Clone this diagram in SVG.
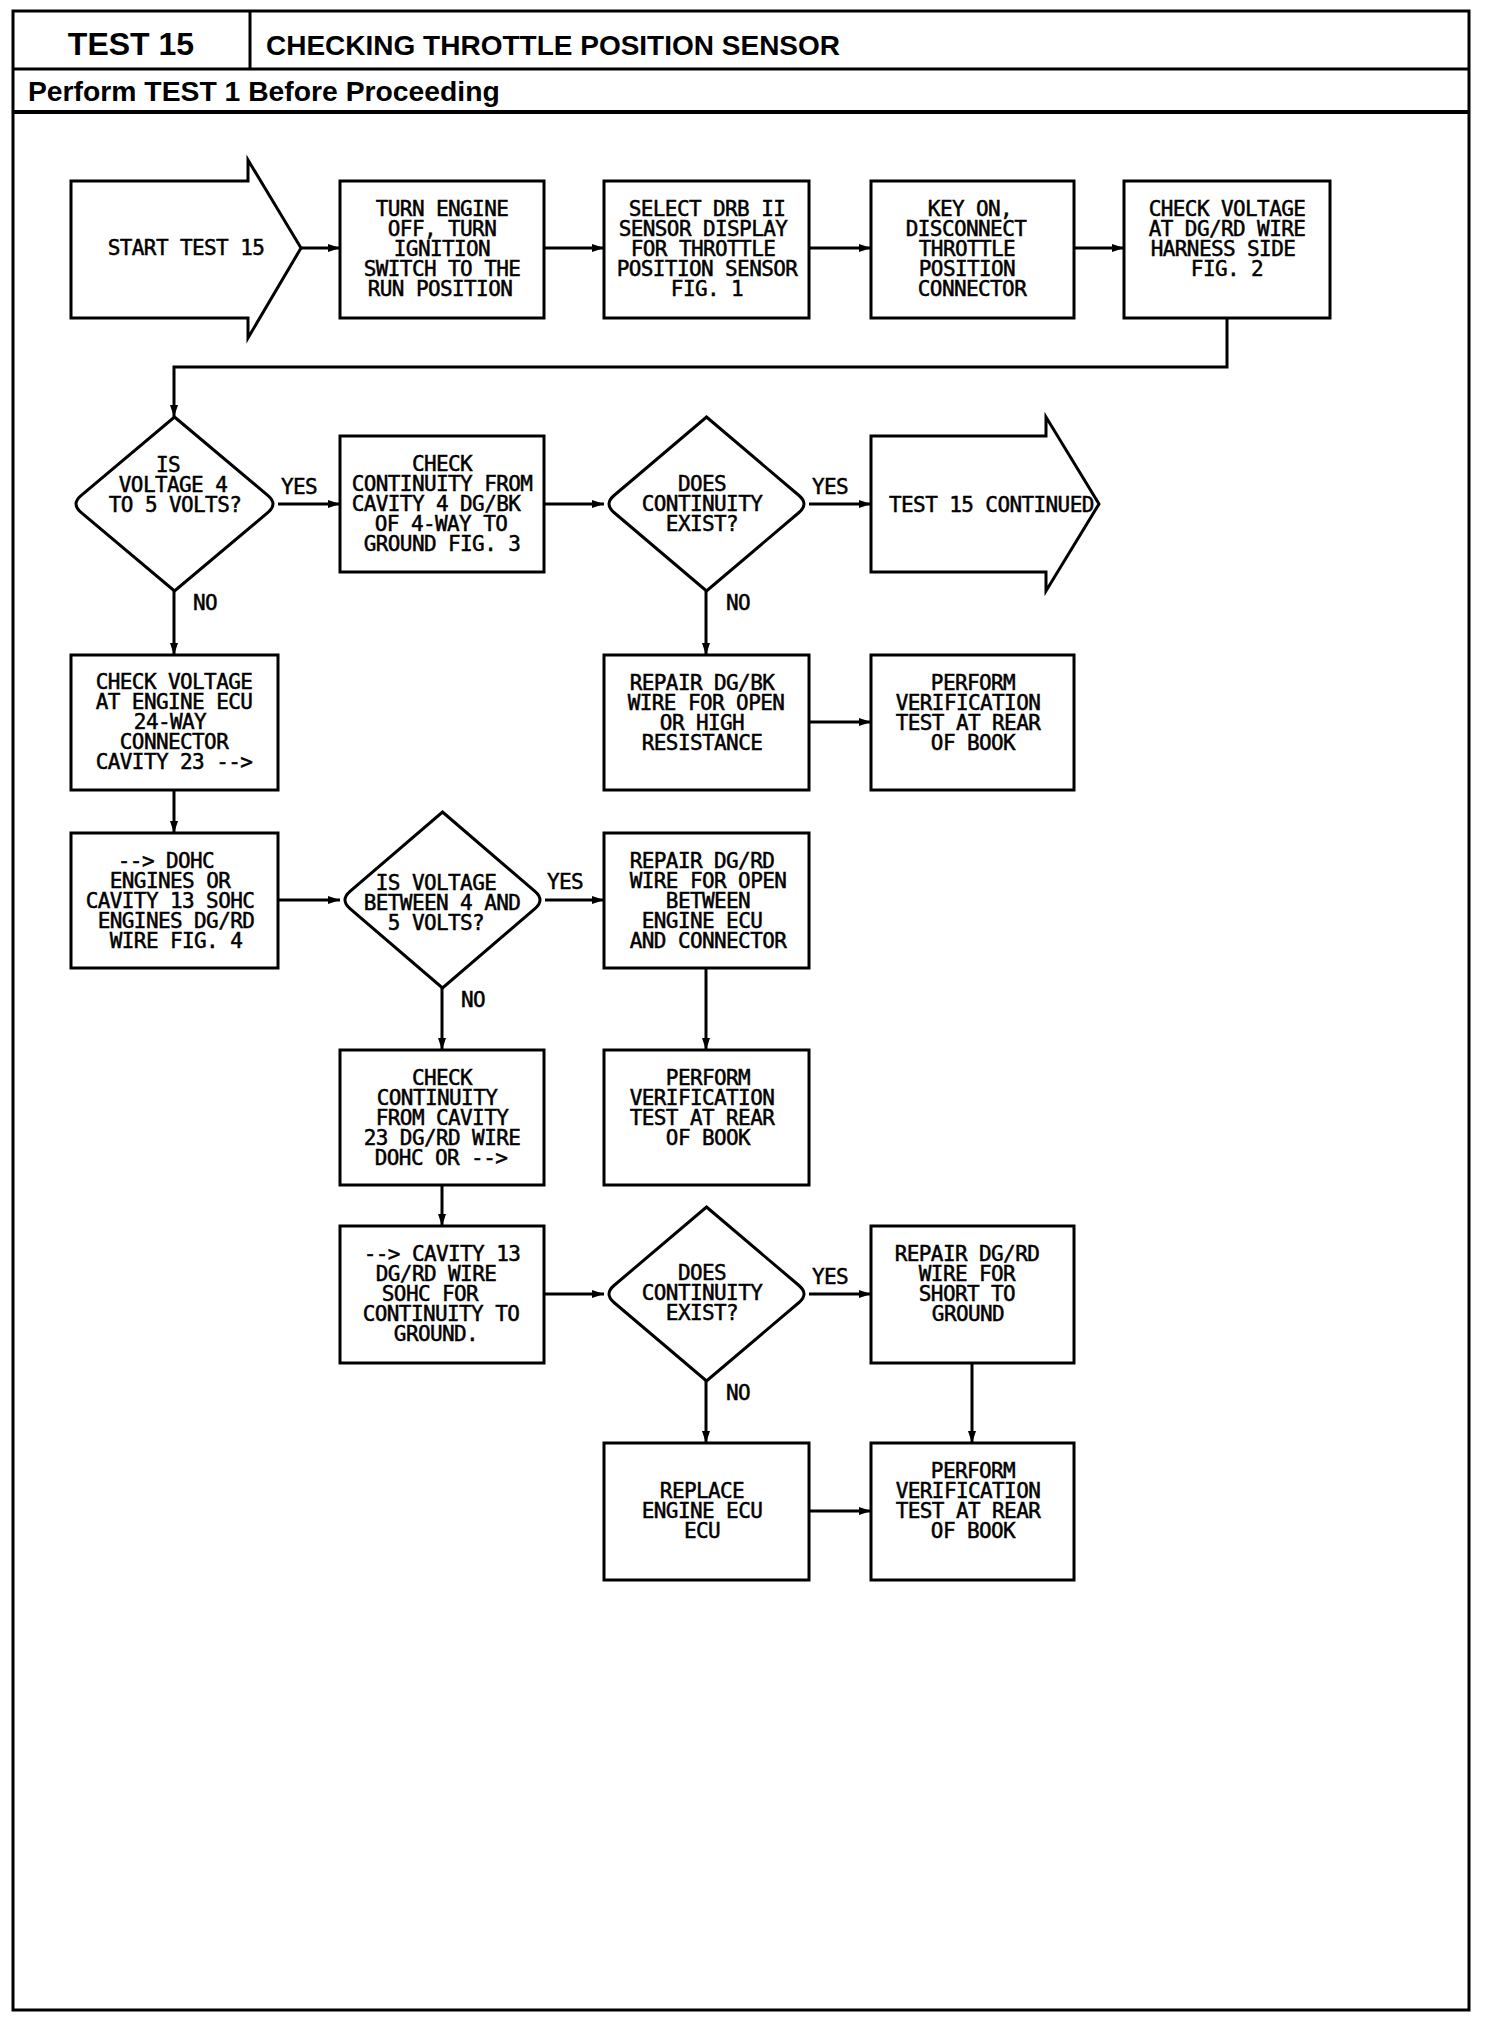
<svg xmlns="http://www.w3.org/2000/svg" width="1504" height="2024" viewBox="0 0 1504 2024">
<style>
.frame{fill:none;stroke:#000;stroke-width:3}
.box{fill:#fff;stroke:#000;stroke-width:3}
.conn{fill:none;stroke:#000;stroke-width:3;marker-end:url(#ah)}
.line{fill:none;stroke:#000;stroke-width:3}
.t{font-family:"DejaVu Sans Mono","Liberation Mono",monospace;font-size:21px;letter-spacing:-0.6px;text-anchor:middle;fill:#000;stroke:#000;stroke-width:0.5}
.lbl{font-family:"DejaVu Sans Mono","Liberation Mono",monospace;font-size:21px;letter-spacing:-0.6px;text-anchor:start;fill:#000;stroke:#000;stroke-width:0.5}
.h{font-family:"Liberation Sans",Arial,sans-serif;font-weight:bold;fill:#000}
</style>
<defs>
<marker id="ah" markerWidth="13" markerHeight="10" refX="12" refY="5" orient="auto" markerUnits="userSpaceOnUse">
<path d="M0,1 L12,5 L0,9 Z" fill="#000"/>
</marker>
</defs>
<rect width="1504" height="2024" fill="#fff"/>

<g id="header">
<rect class="frame" x="13" y="11" width="1456" height="1999"/>
<line class="line" x1="250" y1="11" x2="250" y2="69"/>
<line class="line" x1="13" y1="69" x2="1469" y2="69"/>
<line x1="13" y1="112" x2="1469" y2="112" stroke="#000" stroke-width="4"/>
<text class="h" x="131" y="55" font-size="32" text-anchor="middle">TEST 15</text>
<text class="h" x="266" y="55" font-size="28">CHECKING THROTTLE POSITION SENSOR</text>
<text class="h" x="28" y="101" font-size="28.3">Perform TEST 1 Before Proceeding</text>
</g>

<g id="connectors">
<line class="conn" x1="301" y1="248" x2="340" y2="248"/>
<line class="conn" x1="544" y1="248" x2="604" y2="248"/>
<line class="conn" x1="809" y1="248" x2="871" y2="248"/>
<line class="conn" x1="1074" y1="248" x2="1124" y2="248"/>
<polyline class="conn" points="1227,318 1227,367 174,367 174,417"/>
<line class="conn" x1="278" y1="504" x2="340" y2="504"/>
<line class="conn" x1="544" y1="504" x2="604" y2="504"/>
<line class="conn" x1="809" y1="504" x2="871" y2="504"/>
<line class="conn" x1="174" y1="591" x2="174" y2="655"/>
<line class="conn" x1="706" y1="591" x2="706" y2="655"/>
<line class="conn" x1="809" y1="722" x2="871" y2="722"/>
<line class="conn" x1="174" y1="790" x2="174" y2="833"/>
<line class="conn" x1="278" y1="900" x2="340" y2="900"/>
<line class="conn" x1="545" y1="900" x2="604" y2="900"/>
<line class="conn" x1="442" y1="988" x2="442" y2="1050"/>
<line class="conn" x1="706" y1="968" x2="706" y2="1050"/>
<line class="conn" x1="442" y1="1185" x2="442" y2="1226"/>
<line class="conn" x1="544" y1="1294" x2="604" y2="1294"/>
<line class="conn" x1="809" y1="1294" x2="871" y2="1294"/>
<line class="conn" x1="706" y1="1381" x2="706" y2="1443"/>
<line class="conn" x1="972" y1="1363" x2="972" y2="1443"/>
<line class="conn" x1="809" y1="1511" x2="871" y2="1511"/>
<text class="lbl" x="281" y="494">YES</text>
<text class="lbl" x="193" y="610">NO</text>
<text class="lbl" x="812" y="494">YES</text>
<text class="lbl" x="726" y="610">NO</text>
<text class="lbl" x="547" y="889">YES</text>
<text class="lbl" x="461" y="1007">NO</text>
<text class="lbl" x="812" y="1284">YES</text>
<text class="lbl" x="726" y="1400">NO</text>
</g>

<g id="start">
<path class="box" d="M71,181 L248,181 L248,160 L301,248 L248,338 L248,318 L71,318 Z"/>
<text class="t" x="186" y="255">START TEST 15</text>
</g>

<g id="turn-engine-off">
<rect class="box" x="340" y="181" width="204" height="137"/>
<text class="t"><tspan x="442" y="216">TURN ENGINE</tspan><tspan x="442" y="236">OFF, TURN</tspan><tspan x="442" y="256">IGNITION</tspan><tspan x="442" y="276">SWITCH TO THE</tspan><tspan x="440" y="296">RUN POSITION</tspan></text>
</g>

<g id="select-drb">
<rect class="box" x="604" y="181" width="205" height="137"/>
<text class="t"><tspan x="707" y="216">SELECT DRB II</tspan><tspan x="703" y="236">SENSOR DISPLAY</tspan><tspan x="703" y="256">FOR THROTTLE</tspan><tspan x="707" y="276">POSITION SENSOR</tspan><tspan x="707" y="296">FIG. 1</tspan></text>
</g>

<g id="key-on">
<rect class="box" x="871" y="181" width="203" height="137"/>
<text class="t"><tspan x="970" y="216">KEY ON,</tspan><tspan x="966" y="236">DISCONNECT</tspan><tspan x="967" y="256">THROTTLE</tspan><tspan x="967" y="276">POSITION</tspan><tspan x="972" y="296">CONNECTOR</tspan></text>
</g>

<g id="check-voltage-dgrd">
<rect class="box" x="1124" y="181" width="206" height="137"/>
<text class="t"><tspan x="1227" y="216">CHECK VOLTAGE</tspan><tspan x="1227" y="236">AT DG/RD WIRE</tspan><tspan x="1223" y="256">HARNESS SIDE</tspan><tspan x="1227" y="276">FIG. 2</tspan></text>
</g>

<g id="decision-voltage-4-5">
<path class="box" d="M174.5,417 L268,495.6 Q278,504 268,512.4 L174.5,591 L81,512.4 Q71,504 81,495.6 Z"/>
<text class="t"><tspan x="168" y="472">IS</tspan><tspan x="173" y="492">VOLTAGE 4</tspan><tspan x="175" y="512">TO 5 VOLTS?</tspan></text>
</g>

<g id="check-continuity-dgbk">
<rect class="box" x="340" y="436" width="204" height="136"/>
<text class="t"><tspan x="442" y="471">CHECK</tspan><tspan x="442" y="491">CONTINUITY FROM</tspan><tspan x="436" y="511">CAVITY 4 DG/BK</tspan><tspan x="441" y="531">OF 4-WAY TO</tspan><tspan x="442" y="551">GROUND FIG. 3</tspan></text>
</g>

<g id="decision-continuity-1">
<path class="box" d="M706.5,417 L799,495.5 Q809,504 799,512.5 L706.5,591 L614,512.5 Q604,504 614,495.5 Z"/>
<text class="t"><tspan x="702" y="491">DOES</tspan><tspan x="702" y="511">CONTINUITY</tspan><tspan x="702" y="531">EXIST?</tspan></text>
</g>

<g id="test15-continued">
<path class="box" d="M871,436 L1046,436 L1046,417 L1099,504 L1046,591 L1046,572 L871,572 Z"/>
<text class="lbl" x="889" y="512">TEST 15 CONTINUED</text>
</g>

<g id="check-voltage-ecu">
<rect class="box" x="71" y="655" width="207" height="135"/>
<text class="t"><tspan x="174" y="689">CHECK VOLTAGE</tspan><tspan x="174" y="709">AT ENGINE ECU</tspan><tspan x="170" y="729">24-WAY</tspan><tspan x="174" y="749">CONNECTOR</tspan><tspan x="174" y="769">CAVITY 23 --&gt;</tspan></text>
</g>

<g id="repair-dgbk">
<rect class="box" x="604" y="655" width="205" height="135"/>
<text class="t"><tspan x="702" y="690">REPAIR DG/BK</tspan><tspan x="706" y="710">WIRE FOR OPEN</tspan><tspan x="702" y="730">OR HIGH</tspan><tspan x="702" y="750">RESISTANCE</tspan></text>
</g>

<g id="perform-verification-1">
<rect class="box" x="871" y="655" width="203" height="135"/>
<text class="t"><tspan x="973" y="690">PERFORM</tspan><tspan x="968" y="710">VERIFICATION</tspan><tspan x="968" y="730">TEST AT REAR</tspan><tspan x="973" y="750">OF BOOK</tspan></text>
</g>

<g id="dohc-engines">
<rect class="box" x="71" y="833" width="207" height="135"/>
<text class="t"><tspan x="166" y="868">--&gt; DOHC</tspan><tspan x="170" y="888">ENGINES OR</tspan><tspan x="170" y="908">CAVITY 13 SOHC</tspan><tspan x="176" y="928">ENGINES DG/RD</tspan><tspan x="176" y="948">WIRE FIG. 4</tspan></text>
</g>

<g id="decision-voltage-between">
<path class="box" d="M442.5,812 L535,891.4 Q545,900 535,908.6 L442.5,988 L350,908.6 Q340,900 350,891.4 Z"/>
<text class="t"><tspan x="436" y="890">IS VOLTAGE</tspan><tspan x="442" y="910">BETWEEN 4 AND</tspan><tspan x="436" y="930">5 VOLTS?</tspan></text>
</g>

<g id="repair-dgrd-open">
<rect class="box" x="604" y="833" width="205" height="135"/>
<text class="t"><tspan x="702" y="868">REPAIR DG/RD</tspan><tspan x="708" y="888">WIRE FOR OPEN</tspan><tspan x="708" y="908">BETWEEN</tspan><tspan x="702" y="928">ENGINE ECU</tspan><tspan x="708" y="948">AND CONNECTOR</tspan></text>
</g>

<g id="check-continuity-cav23">
<rect class="box" x="340" y="1050" width="204" height="135"/>
<text class="t"><tspan x="442" y="1085">CHECK</tspan><tspan x="437" y="1105">CONTINUITY</tspan><tspan x="442" y="1125">FROM CAVITY</tspan><tspan x="442" y="1145">23 DG/RD WIRE</tspan><tspan x="441" y="1165">DOHC OR --&gt;</tspan></text>
</g>

<g id="perform-verification-2">
<rect class="box" x="604" y="1050" width="205" height="135"/>
<text class="t"><tspan x="708" y="1085">PERFORM</tspan><tspan x="702" y="1105">VERIFICATION</tspan><tspan x="702" y="1125">TEST AT REAR</tspan><tspan x="708" y="1145">OF BOOK</tspan></text>
</g>

<g id="cavity13-sohc">
<rect class="box" x="340" y="1226" width="204" height="137"/>
<text class="t"><tspan x="442" y="1261">--&gt; CAVITY 13</tspan><tspan x="436" y="1281">DG/RD WIRE</tspan><tspan x="430" y="1301">SOHC FOR</tspan><tspan x="441" y="1321">CONTINUITY TO</tspan><tspan x="436" y="1341">GROUND.</tspan></text>
</g>

<g id="decision-continuity-2">
<path class="box" d="M706.5,1207 L799,1285.5 Q809,1294 799,1302.5 L706.5,1381 L614,1302.5 Q604,1294 614,1285.5 Z"/>
<text class="t"><tspan x="702" y="1280">DOES</tspan><tspan x="702" y="1300">CONTINUITY</tspan><tspan x="702" y="1320">EXIST?</tspan></text>
</g>

<g id="repair-dgrd-short">
<rect class="box" x="871" y="1226" width="203" height="137"/>
<text class="t"><tspan x="967" y="1261">REPAIR DG/RD</tspan><tspan x="967" y="1281">WIRE FOR</tspan><tspan x="967" y="1301">SHORT TO</tspan><tspan x="968" y="1321">GROUND</tspan></text>
</g>

<g id="replace-ecu">
<rect class="box" x="604" y="1443" width="205" height="137"/>
<text class="t"><tspan x="702" y="1498">REPLACE</tspan><tspan x="702" y="1518">ENGINE ECU</tspan><tspan x="702" y="1538">ECU</tspan></text>
</g>

<g id="perform-verification-3">
<rect class="box" x="871" y="1443" width="203" height="137"/>
<text class="t"><tspan x="973" y="1478">PERFORM</tspan><tspan x="968" y="1498">VERIFICATION</tspan><tspan x="968" y="1518">TEST AT REAR</tspan><tspan x="973" y="1538">OF BOOK</tspan></text>
</g>
</svg>
